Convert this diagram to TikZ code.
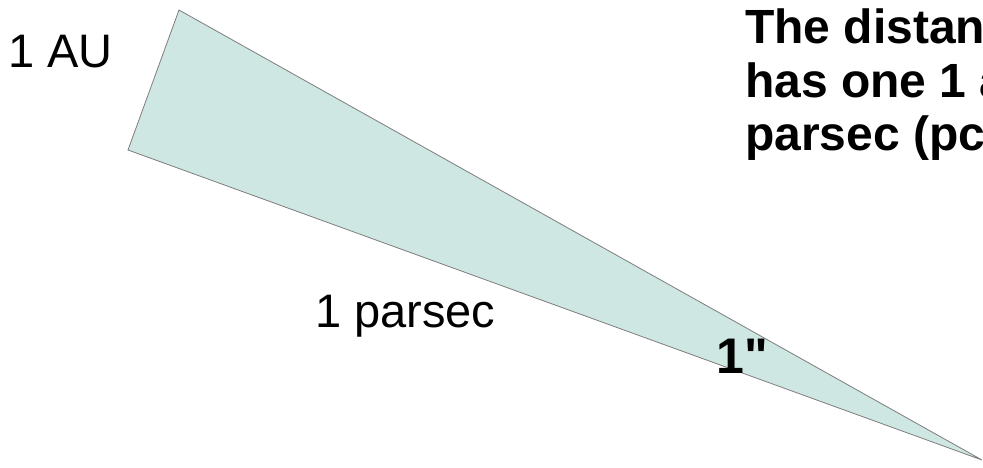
\documentclass[tikz,border=0pt]{standalone}
\usepackage{fontspec}
\setmainfont{Liberation Sans}
\newfontfamily\plainsans{Liberation Sans}
\definecolor{pcteal}{RGB}{207,231,227}
\definecolor{pcgray}{RGB}{125,125,125}

\begin{document}
\begin{tikzpicture}[x=1pt,y=-1pt,
    lbl/.style={anchor=base west, inner sep=0pt, font=\fontsize{47}{55}\selectfont},
    boldlbl/.style={anchor=base west, inner sep=0pt, font=\fontsize{48}{55}\selectfont\bfseries}]
                \useasboundingbox (0,0) rectangle (983,467);
                \coordinate (top) at (179,10);
                \coordinate (left) at (128,150);
                \coordinate (tip) at (982,460);
                \draw[pcgray, fill=pcteal, line width=0.8pt] (top) -- (left) -- (tip) -- cycle;
                \node[lbl] (au) at (8,67) {1 AU};
                \node[lbl] (parsec) at (315,327) {1 parsec};
                \node[boldlbl, font=\fontsize{50}{55}\selectfont\plainsans\bfseries] (angle) at (716,373) {1"};
                \node[boldlbl] (line1) at (745,43) {The distance};
                \node[boldlbl] (line2) at (745,97) {has one 1 arc};
                \node[boldlbl] (line3) at (745,150) {parsec (pc)};
            \end{tikzpicture}
\end{document}
